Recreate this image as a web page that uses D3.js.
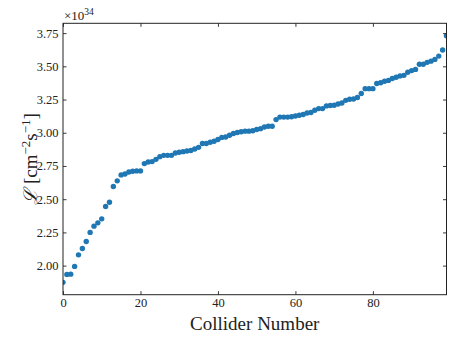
<html>
  <script src="https://d3js.org/d3.v7.min.js"></script>
  <body style="margin:0; background:white">
    <div id="svgcontainer"></div>
    <script>
      // Data: luminosity per collider (units of 1e34 cm^-2 s^-1)
      var lumi = [1.874, 1.934, 1.936, 1.994, 2.081, 2.129, 2.182, 2.250, 2.297, 2.322,
                  2.352, 2.445, 2.477, 2.595, 2.638, 2.683, 2.690, 2.705, 2.710, 2.713,
                  2.713, 2.768, 2.780, 2.783, 2.800, 2.820, 2.830, 2.830, 2.830, 2.848,
                  2.853, 2.858, 2.863, 2.866, 2.878, 2.890, 2.919, 2.919, 2.929, 2.936,
                  2.949, 2.965, 2.968, 2.981, 2.994, 3.002, 3.008, 3.012, 3.012, 3.015,
                  3.025, 3.031, 3.043, 3.049, 3.049, 3.099, 3.118, 3.118, 3.118, 3.121,
                  3.126, 3.132, 3.137, 3.149, 3.152, 3.169, 3.182, 3.182, 3.202, 3.205,
                  3.207, 3.217, 3.224, 3.244, 3.252, 3.254, 3.265, 3.295, 3.332, 3.332,
                  3.332, 3.371, 3.376, 3.388, 3.394, 3.408, 3.418, 3.428, 3.432, 3.455,
                  3.468, 3.477, 3.516, 3.516, 3.530, 3.539, 3.552, 3.577, 3.623, 3.731];
      var colliders = d3.range(lumi.length);
      var xTicks = [0, 20, 40, 60, 80];
      var yTicks = [2.00, 2.25, 2.50, 2.75, 3.00, 3.25, 3.50, 3.75];

      var width = 457, height = 343;
      var margin = {left: 63, top: 23.3, right: 10.5, bottom: 48.3};
      var w = width - margin.left - margin.right;
      var h = height - margin.top - margin.bottom;
      var serif = "'Liberation Serif', 'DejaVu Serif', serif";

      var svg = d3.select("#svgcontainer")
        .append("svg").attr("width", width).attr("height", height);

      var g = svg.append("g")
        .attr("transform", "translate(" + margin.left + "," + margin.top + ")");

      // scales (y padded 5% like matplotlib)
      var ext = d3.extent(lumi);
      var pad = (ext[1] - ext[0]) * 0.05;
      var x = d3.scaleLinear().domain([0, lumi.length - 1]).range([0, w]);
      var y = d3.scaleLinear().domain([ext[0] - pad, ext[1] + pad]).range([h, 0]);

      g.append("clipPath").attr("id", "clip")
        .append("rect").attr("width", w).attr("height", h);

      // points
      g.append("g").attr("clip-path", "url(#clip)")
        .selectAll("circle")
        .data(colliders)
        .join("circle")
        .attr("cx", function(d) { return x(d) })
        .attr("cy", function(d) { return y(lumi[d]) })
        .attr("r", 2.7)
        .attr("fill", "#1f77b4");

      // axes, ticks pointing inward on all sides
      var tk = 3.5;
      function style(sel, labels) {
        sel.attr("font-family", serif).attr("font-size", 12.5);
        sel.select(".domain").remove();
        sel.selectAll(".tick line").attr("stroke", "#222").attr("stroke-width", 0.9);
        sel.selectAll(".tick text").attr("fill", "#222");
        if (!labels) sel.selectAll(".tick text").remove();
      }

      g.append("g").attr("transform", "translate(0," + h + ")")
        .call(d3.axisBottom(x).tickValues(xTicks).tickSize(-tk).tickPadding(3.5))
        .call(function(s) { style(s, true) });
      g.append("g")
        .call(d3.axisTop(x).tickValues(xTicks).tickSize(-tk))
        .call(function(s) { style(s, false) });
      g.append("g")
        .call(d3.axisLeft(y).tickValues(yTicks).tickSize(-tk).tickPadding(4.5)
          .tickFormat(d3.format(".2f")))
        .call(function(s) { style(s, true) });
      g.append("g").attr("transform", "translate(" + w + ",0)")
        .call(d3.axisRight(y).tickValues(yTicks).tickSize(-tk))
        .call(function(s) { style(s, false) });

      // frame
      g.append("rect")
        .attr("width", w).attr("height", h)
        .attr("fill", "none").attr("stroke", "#222").attr("stroke-width", 1);

      // offset text
      var off = svg.append("text")
        .attr("x", margin.left + 1).attr("y", 20)
        .attr("font-family", serif).attr("font-size", 13).attr("fill", "#222");
      off.append("tspan").text("\u00d710");
      off.append("tspan").attr("font-size", 9.5).attr("dy", -5).text("34");

      // x label
      svg.append("text")
        .attr("x", margin.left + w / 2).attr("y", 330)
        .attr("text-anchor", "middle")
        .attr("font-family", serif).attr("font-size", 19).attr("fill", "#222")
        .text("Collider Number");

      // y label
      var yl = svg.append("text")
        .attr("transform", "translate(37," + (margin.top + h / 2) + ") rotate(-90)")
        .attr("text-anchor", "middle")
        .attr("font-family", serif).attr("font-size", 19).attr("fill", "#222");
      yl.append("tspan").attr("font-style", "italic").text("\u2112");
      yl.append("tspan").text(" [cm");
      yl.append("tspan").attr("font-size", 13).attr("dy", -7).text("\u22122");
      yl.append("tspan").attr("dy", 7).text("s");
      yl.append("tspan").attr("font-size", 13).attr("dy", -7).text("\u22121");
      yl.append("tspan").attr("dy", 7).text("]");
    </script>
  </body>
</html>
